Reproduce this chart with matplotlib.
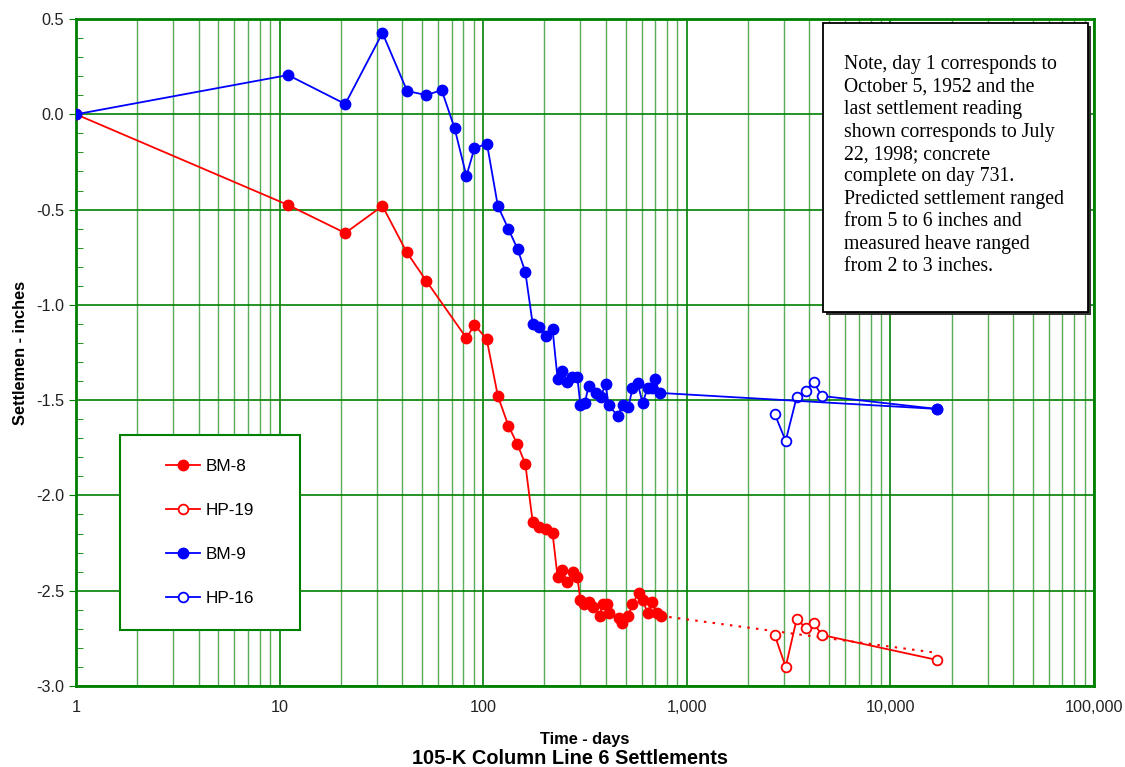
import matplotlib
matplotlib.use('Agg')
import matplotlib.pyplot as plt
from matplotlib.ticker import FuncFormatter, MultipleLocator, LogLocator
from matplotlib.patches import Rectangle

# settlement readings, days since Oct 5 1952 vs. settlement in inches
bm8_days = [1, 11, 21, 32, 42, 52.6, 82.7, 90.6, 104, 118, 133, 147, 161,
            175, 189, 204, 219, 232, 245, 259, 275, 290, 300, 314, 329, 348,
            373, 386, 404, 417, 462, 483, 517, 541, 580, 607, 642, 671, 710, 743]
bm8_vals = [0.0, -0.476, -0.623, -0.481, -0.722, -0.875, -1.174, -1.105, -1.179,
            -1.478, -1.635, -1.73, -1.835, -2.139, -2.165, -2.176, -2.197,
            -2.428, -2.391, -2.454, -2.401, -2.428, -2.548, -2.569, -2.559,
            -2.585, -2.632, -2.569, -2.569, -2.617, -2.643, -2.669, -2.632,
            -2.569, -2.512, -2.548, -2.617, -2.559, -2.617, -2.632]

bm8_trend_days = [743, 16900]
bm8_trend_vals = [-2.632, -2.826]

hp19_days = [2702, 3060, 3467, 3840, 4200, 4600, 16900]
hp19_vals = [-2.732, -2.900, -2.648, -2.695, -2.669, -2.732, -2.863]

bm9_days = [1, 11, 21, 32, 42.3, 52.6, 62.5, 72.3, 82.7, 90.6, 104.4, 118, 133,
            147.5, 161, 175, 189, 204, 219, 232, 245, 259, 274, 290, 300, 316,
            329, 357, 378, 399, 413, 457, 486, 517, 541, 573, 607, 642, 672,
            695, 736, 16900]
bm9_vals = [0.0, 0.206, 0.054, 0.427, 0.122, 0.101, 0.127, -0.072, -0.324,
            -0.177, -0.156, -0.481, -0.602, -0.707, -0.827, -1.100, -1.116,
            -1.163, -1.126, -1.389, -1.347, -1.404, -1.378, -1.378, -1.525,
            -1.515, -1.425, -1.462, -1.483, -1.415, -1.525, -1.583, -1.525,
            -1.536, -1.436, -1.410, -1.515, -1.436, -1.436, -1.389, -1.462,
            -1.546]

hp16_days = [2702, 3060, 3467, 3840, 4200, 4600, 16900]
hp16_vals = [-1.572, -1.714, -1.483, -1.452, -1.405, -1.478, -1.546]

note = ("Note, day 1 corresponds to\n"
        "October 5, 1952 and the\n"
        "last settlement reading\n"
        "shown corresponds to July\n"
        "22, 1998; concrete\n"
        "complete on day 731.\n"
        "Predicted settlement ranged\n"
        "from 5 to 6 inches and\n"
        "measured heave ranged\n"
        "from 2 to 3 inches.")

plt.rcParams['font.family'] = ['Liberation Sans', 'DejaVu Sans']
green = '#008000'

fig = plt.figure(figsize=(11.25, 7.67), dpi=100)
ax = fig.add_axes([0.0676, 0.1056, 0.9048, 0.8696])

# lines
ax.plot(bm8_trend_days, bm8_trend_vals, color='red', lw=1.5,
        linestyle=(0, (1.2, 3)), zorder=3)
ax.plot(hp19_days, hp19_vals, color='red', lw=1.3, marker='o', ms=7,
        mfc='white', mec='red', mew=1.3, label='HP-19', zorder=4)
ax.plot(bm8_days, bm8_vals, color='red', lw=1.3, marker='o', ms=7.5,
        label='BM-8', zorder=4)
ax.plot(hp16_days, hp16_vals, color='blue', lw=1.3, marker='o', ms=7,
        mfc='white', mec='blue', mew=1.3, label='HP-16', zorder=4)
ax.plot(bm9_days, bm9_vals, color='blue', lw=1.3, marker='o', ms=7.5,
        label='BM-9', zorder=5)

ax.set_xscale('log')
ax.set_xlim(1, 100000)
ax.set_ylim(-3.0, 0.5)

ax.xaxis.set_major_locator(LogLocator(base=10))
ax.xaxis.set_minor_locator(LogLocator(base=10, subs=range(2, 10)))
ax.xaxis.set_major_formatter(FuncFormatter(lambda v, p: '{:,.0f}'.format(v)))
ax.xaxis.set_minor_formatter(FuncFormatter(lambda v, p: ''))
ax.yaxis.set_major_locator(MultipleLocator(0.5))
ax.yaxis.set_minor_locator(MultipleLocator(0.1))
ax.yaxis.set_major_formatter(FuncFormatter(lambda v, p: '%.1f' % v))

ax.grid(which='major', axis='both', color=green, lw=1.2)
ax.grid(which='minor', axis='x', color=green, lw=1.0, alpha=0.65)
ax.set_axisbelow(True)

for s in ax.spines.values():
    s.set_color(green)
    s.set_linewidth(2)

ax.tick_params(axis='x', which='both', length=0, labelsize=11.7, pad=10,
               labelcolor='#222222')
ax.tick_params(axis='y', which='major', direction='out', length=5,
               color=green, labelsize=11.7, labelcolor='#222222')
ax.tick_params(axis='y', which='minor', direction='in', length=5, color=green)

ax.set_xlabel('Time - days', fontsize=11.8, fontweight='bold', labelpad=12)
ax.set_ylabel('Settlemen - inches', fontsize=11.8, fontweight='bold', labelpad=6)
fig.text(0.507, 0.011, '105-K Column Line 6 Settlements', fontsize=14.4,
         fontweight='bold', ha='center', va='center')

# legend box
ax.add_patch(Rectangle((0.043, 0.084), 0.177, 0.292, transform=ax.transAxes,
                       facecolor='white', edgecolor=green, lw=1.5, zorder=6))
handles, labels = ax.get_legend_handles_labels()
order = ['BM-8', 'HP-19', 'BM-9', 'HP-16']
hmap = dict(zip(labels, handles))
leg = ax.legend([hmap[k] for k in order], order, loc='center',
                bbox_to_anchor=(0.1316, 0.230), frameon=False, fontsize=12.3,
                labelspacing=1.7, handlelength=2.0, handletextpad=0.35)
leg.set_zorder(7)

# note box with shadow
ax.add_patch(Rectangle((0.7316 + 0.0027, 0.5932 - 0.0039), 0.2356, 0.3768,
                       transform=fig.transFigure, facecolor='#333333',
                       edgecolor='none', zorder=8, clip_on=False))
ax.add_patch(Rectangle((0.7316, 0.5932), 0.2356, 0.3768,
                       transform=fig.transFigure, facecolor='white',
                       edgecolor='black', lw=1.3, zorder=9, clip_on=False))
fig.text(0.750, 0.928, note, fontsize=14.2, family='Liberation Serif',
         ha='left', va='top', linespacing=1.245, zorder=10)

plt.savefig('out.png', dpi=100)
